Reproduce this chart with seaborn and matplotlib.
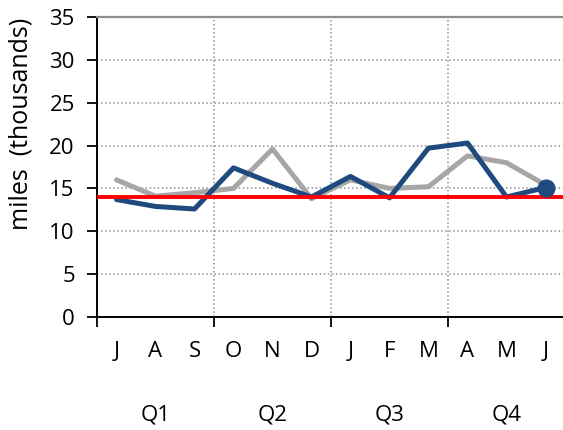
import matplotlib
matplotlib.use("Agg")
import matplotlib.pyplot as plt
import matplotlib.transforms as mtransforms
import seaborn as sns
import pandas as pd

months = ["J", "A", "S", "O", "N", "D", "J", "F", "M", "A", "M", "J"]
quarters = ["Q1", "Q2", "Q3", "Q4"]
gray_vals = [16.0, 14.1, 14.5, 15.0, 19.6, 13.8, 16.0, 15.0, 15.2, 18.8, 18.0, 15.4]
blue_vals = [13.7, 12.9, 12.6, 17.4, 15.6, 14.0, 16.4, 13.9, 19.7, 20.3, 14.0, 15.1]
target = 14.0

sns.set_style("white")
plt.rcParams['font.family'] = ['Open Sans', 'DejaVu Sans']
plt.rcParams['text.color'] = 'black'
plt.rcParams['xtick.color'] = 'black'
plt.rcParams['ytick.color'] = 'black'
plt.rcParams['axes.labelcolor'] = 'black'

FS = 16

df = pd.DataFrame({"pos": range(len(months)), "gray": gray_vals, "blue": blue_vals})

fig = plt.figure(figsize=(5.63, 4.30), dpi=100)
ax = fig.add_axes([97 / 563, 113 / 430, 468 / 563, 300 / 430])

sns.lineplot(data=df, x="pos", y="gray", color="#A6A6A6", linewidth=3.6, ax=ax, zorder=3)
sns.lineplot(data=df, x="pos", y="blue", color="#1F4A7D", linewidth=3.6, ax=ax, zorder=4)
ax.axhline(target, color="#FF0000", linewidth=2.8, zorder=5)
ax.plot(df["pos"].iloc[-1], df["blue"].iloc[-1], "o", color="#1F4A7D", markersize=12, zorder=6)

ax.set_xlim(-0.5, 11.5)
ax.set_ylim(0, 35)
ax.set_yticks(range(0, 36, 5))
ax.set_xticks([-0.5, 2.5, 5.5, 8.5])
ax.set_xticklabels([])
ax.set_xticks(range(len(months)), minor=True)
ax.set_xticklabels(months, minor=True)
ax.tick_params(axis="x", which="minor", length=0, pad=17, labelsize=FS)
ax.tick_params(axis="x", which="major", direction="out", length=7, width=1.3, color="black", bottom=True)
ax.tick_params(axis="y", direction="out", length=7, width=1.3, color="black", left=True, labelsize=FS, pad=9)

for y in range(5, 35, 5):
    ax.axhline(y, color="#909090", linestyle=":", linewidth=1.1, zorder=1)
for x in [2.5, 5.5, 8.5]:
    ax.axvline(x, color="#909090", linestyle=":", linewidth=1.1, zorder=1)

ax.set_xlabel("")
ax.set_ylabel("miles  (thousands)", fontsize=18)
ax.yaxis.set_label_coords(-0.135, 0.643)

trans = mtransforms.blended_transform_factory(ax.transData, ax.transAxes)
for i, q in enumerate(quarters):
    ax.text(3 * i + 1, -0.327, q, transform=trans, ha="center", va="center", fontsize=FS)

for side in ["left", "bottom"]:
    ax.spines[side].set_color("black")
    ax.spines[side].set_linewidth(1.4)
ax.spines["top"].set_color("#8C8C8C")
ax.spines["top"].set_linewidth(1.6)
ax.spines["right"].set_visible(False)

fig.savefig("out.png", dpi=100)
